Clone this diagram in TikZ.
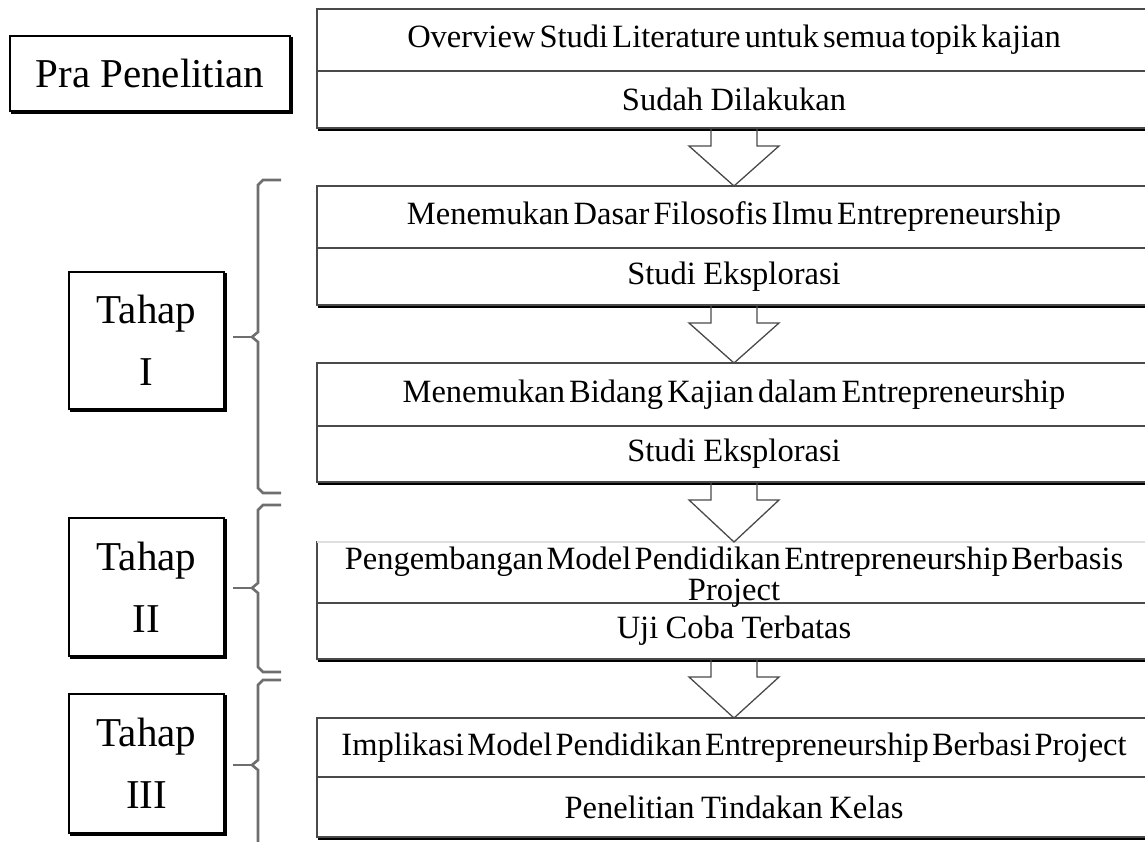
\documentclass[tikz,border=0pt]{standalone}
\usepackage{fontspec}
\setmainfont{Liberation Serif}
\usetikzlibrary{calc}
\definecolor{boxline}{HTML}{4A4A4A}
\definecolor{shade}{HTML}{8A8A8A}
\definecolor{bracegray}{HTML}{6E6E6E}
% narrow word spacing used inside the step boxes
\newcommand\tightwords{\spaceskip=0.09em plus 0.03em minus 0.02em\relax}
\newcommand\blockarrow[2]{%
  \draw[blockarr] ($(#1.south)+(-23,0)$) -- ($(#1.south)+(-23,18)$)
    -- ($(#1.south)+(-45,18)$) -- (#2.north)
    -- ($(#1.south)+(45,18)$) -- ($(#1.south)+(23,18)$)
    -- ($(#1.south)+(23,0)$);}
\newcommand\shadowbottom[1]{%
  \draw[shade, line width=2pt] ($(#1.south west)+(0.5,1.5)$) -- ($(#1.south east)+(0,1.5)$);}
\begin{document}
\begin{tikzpicture}[x=1pt,y=-1pt,
  cell/.style={draw=boxline, line width=1.3pt, minimum width=834pt, outer sep=0pt,
    text width=826pt, align=center, inner sep=0pt, anchor=north west,
    font=\fontsize{32.5}{31}\selectfont, execute at begin node=\tightwords},
  celltext/.style={text width=826pt, align=center, inner sep=0pt,
    font=\fontsize{32.5}{31}\selectfont, execute at begin node=\tightwords},
  stage/.style={draw=black, line width=2pt, inner sep=0pt, outer sep=0pt, align=center,
    anchor=north west, font=\fontsize{41}{62}\selectfont},
  blockarr/.style={draw=boxline, line width=1.3pt, line join=miter},
  bracelin/.style={draw=bracegray, line width=2.6pt}]
\useasboundingbox (0,0) rectangle (1145,841);
\clip (0,0) rectangle (1145,841);

% stage labels on the left
\node[stage, minimum width=280pt, minimum height=75pt] (pra) at (10,36) {Pra Penelitian};
\node[stage, minimum width=155pt, minimum height=137pt] (t1) at (69,272) {Tahap\\I};
\node[stage, minimum width=155pt, minimum height=138pt] (t2) at (69,518) {Tahap\\II};
\node[stage, minimum width=155pt, minimum height=139pt] (t3) at (69,694) {Tahap\\III};
\foreach \n in {pra,t1,t2,t3}{
  \draw[black, line width=2pt] ($(\n.north east)+(1.5,1)$) -- ($(\n.south east)+(1.5,1.5)$)
    -- ($(\n.south west)+(1,1.5)$);
}

% step boxes
\node[cell, minimum height=62pt] (b1a) at (317,9) {Overview Studi Literature untuk semua topik kajian};
\node[cell, minimum height=57pt] (b1b) at (317,71) {Sudah Dilakukan};
\node[cell, minimum height=62pt] (b2a) at (317,186) {Menemukan Dasar Filosofis Ilmu Entrepreneurship};
\node[cell, minimum height=57pt] (b2b) at (317,248) {Studi Eksplorasi};
\node[cell, minimum height=63pt] (b3a) at (317,363) {Menemukan Bidang Kajian dalam Entrepreneurship};
\node[cell, minimum height=56pt] (b3b) at (317,426) {Studi Eksplorasi};
\node[cell, minimum height=61pt] (b4a) at (317,542) {};
\node[cell, minimum height=56pt] (b4b) at (317,603) {Uji Coba Terbatas};
\node[cell, minimum height=59pt] (b5a) at (317,718) {Implikasi Model Pendidikan Entrepreneurship Berbasi Project};
\node[cell, minimum height=60pt] (b5b) at (317,777) {Penelitian Tindakan Kelas};
\draw[gray!25, line width=1.6pt] (b4a.north west) -- (b4a.north east);
% two-line title of the fourth step, running down onto its divider
\node[celltext] (b4t) at ($(b4a.center)+(0,5)$) {Pengembangan Model Pendidikan Entrepreneurship Berbasis\\Project};
\foreach \n in {b1b,b2b,b3b,b4b,b5b}{\shadowbottom{\n}}

% block arrows between the steps
\blockarrow{b1b}{b2a}
\blockarrow{b2b}{b3a}
\blockarrow{b3b}{b4a}
\blockarrow{b4b}{b5a}

% braces grouping the steps of each stage
\draw[bracelin] (281,180) -- (263,180) -- (258,185) -- (258,332) -- (252,337) -- (258,342) -- (258,488) -- (263,493) -- (281,493);
\draw[bracelin] (233,337) -- (252,337);
\draw[bracelin] (281,505) -- (263,505) -- (258,510) -- (258,583) -- (252,588) -- (258,593) -- (258,667) -- (263,672) -- (281,672);
\draw[bracelin] (233,588) -- (252,588);
\draw[bracelin] (281,680) -- (263,680) -- (258,685) -- (258,760) -- (252,765) -- (258,770) -- (258,850);
\draw[bracelin] (233,765) -- (252,765);
\end{tikzpicture}
\end{document}
